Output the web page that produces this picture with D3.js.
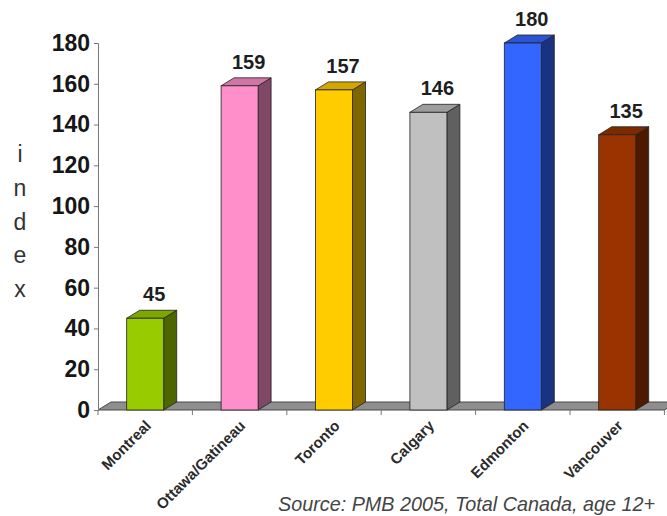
<!DOCTYPE html>
<html>
<head>
<meta charset="utf-8">
<script src="https://cdn.jsdelivr.net/npm/d3@7"></script>
<style>
  html, body { margin: 0; padding: 0; background: #fff; }
  svg { display: block; font-family: Arial, "Liberation Sans", sans-serif; }
</style>
</head>
<body>
<svg id="chart" width="667" height="516"></svg>
<script>
// Index by city
const categories = ["Montreal", "Ottawa/Gatineau", "Toronto", "Calgary", "Edmonton", "Vancouver"];
const values = [45, 159, 157, 146, 180, 135];
const frontColors = ["#99cc00", "#ff8fcb", "#ffcc00", "#c0c0c0", "#3366ff", "#993300"];
const yTicks = [0, 20, 40, 60, 80, 100, 120, 140, 160, 180];
const yTitle = ["i", "n", "d", "e", "x"];
const sourceNote = "Source: PMB 2005, Total Canada, age 12+";

const svg = d3.select("#chart");

// plot frame
const plotLeft = 98, plotRight = 664.4, plotBottom = 410, plotTop = 43;
const depthX = 13, depthY = 8; // oblique depth of the 3D bars and floor

const x = d3.scaleBand()
  .domain(categories)
  .range([plotLeft, plotRight])
  .paddingInner(0.608)
  .paddingOuter(0.304);
const step = x.step();

const y = d3.scaleLinear().domain([0, 180]).range([plotBottom, plotTop]);

// floor
svg.append("polygon")
  .attr("points", [
    [plotLeft, plotBottom], [plotRight, plotBottom],
    [plotRight + depthX, plotBottom - depthY], [plotLeft + depthX, plotBottom - depthY]
  ].map(p => p.join(",")).join(" "))
  .attr("fill", "#8e8e8e")
  .attr("stroke", "#4a4a4a")
  .attr("stroke-width", 1);

// category tick marks below the floor
svg.append("g").selectAll("line")
  .data(d3.range(categories.length + 1))
  .join("line")
  .attr("x1", i => plotLeft + i * step)
  .attr("x2", i => plotLeft + i * step)
  .attr("y1", plotBottom)
  .attr("y2", plotBottom + 5)
  .attr("stroke", "#777")
  .attr("stroke-width", 1);

// y axis
const yAxis = svg.append("g")
  .attr("transform", `translate(${plotLeft},0)`)
  .call(d3.axisLeft(y).tickValues(yTicks).tickSize(4).tickPadding(4));
yAxis.select(".domain").attr("stroke", "#777");
yAxis.selectAll(".tick line").attr("stroke", "#777");
yAxis.selectAll(".tick text")
  .attr("font-size", 23)
  .attr("font-weight", "bold")
  .attr("font-family", "Arial, 'Liberation Sans', sans-serif")
  .attr("fill", "#161616");

// axis title written as stacked letters
svg.append("g").selectAll("text")
  .data(yTitle)
  .join("text")
  .attr("x", 20)
  .attr("y", (d, i) => 162 + i * 33.8)
  .attr("text-anchor", "middle")
  .attr("font-size", 23)
  .attr("fill", "#333")
  .text(d => d);

// 3D bars
const shade = (c, k) => {
  const col = d3.rgb(c);
  return d3.rgb(col.r * k, col.g * k, col.b * k).formatHex();
};

const bars = svg.append("g").selectAll("g")
  .data(categories.map((c, i) => ({ c, v: values[i], col: frontColors[i] })))
  .join("g");

bars.each(function (d) {
  const g = d3.select(this);
  const x0 = x(d.c), w = x.bandwidth(), yt = y(d.v), yb = y(0);
  const pts = arr => arr.map(p => p.join(",")).join(" ");
  // side face
  g.append("polygon")
    .attr("points", pts([[x0 + w, yt], [x0 + w + depthX, yt - depthY], [x0 + w + depthX, yb - depthY], [x0 + w, yb]]))
    .attr("fill", shade(d.col, 0.5))
    .attr("stroke", "#222").attr("stroke-width", 0.8).attr("stroke-linejoin", "round");
  // top face
  g.append("polygon")
    .attr("points", pts([[x0, yt], [x0 + depthX, yt - depthY], [x0 + w + depthX, yt - depthY], [x0 + w, yt]]))
    .attr("fill", shade(d.col, 0.82))
    .attr("stroke", "#222").attr("stroke-width", 0.8).attr("stroke-linejoin", "round");
  // front face
  g.append("rect")
    .attr("x", x0).attr("y", yt)
    .attr("width", w).attr("height", yb - yt)
    .attr("fill", d.col)
    .attr("stroke", "#222").attr("stroke-width", 0.8);
  // value label
  g.append("text")
    .attr("x", x0 + w / 2 + 9)
    .attr("y", yt - 17)
    .attr("text-anchor", "middle")
    .attr("font-size", 20)
    .attr("font-weight", "bold")
    .attr("fill", "#1e1e1e")
    .text(d.v);
});

// category labels
svg.append("g").selectAll("text")
  .data(categories)
  .join("text")
  .attr("transform", d => `translate(${x(d) + x.bandwidth() / 2 + 3},${plotBottom + 13}) rotate(-45)`)
  .attr("text-anchor", "end")
  .attr("dy", "0.35em")
  .attr("font-size", 15)
  .attr("font-weight", "bold")
  .attr("fill", "#2a2a2a")
  .text(d => d);

// source note
svg.append("text")
  .attr("x", 655)
  .attr("y", 511)
  .attr("text-anchor", "end")
  .attr("font-size", 19.8)
  .attr("font-style", "italic")
  .attr("fill", "#444")
  .text(sourceNote);
</script>
</body>
</html>
